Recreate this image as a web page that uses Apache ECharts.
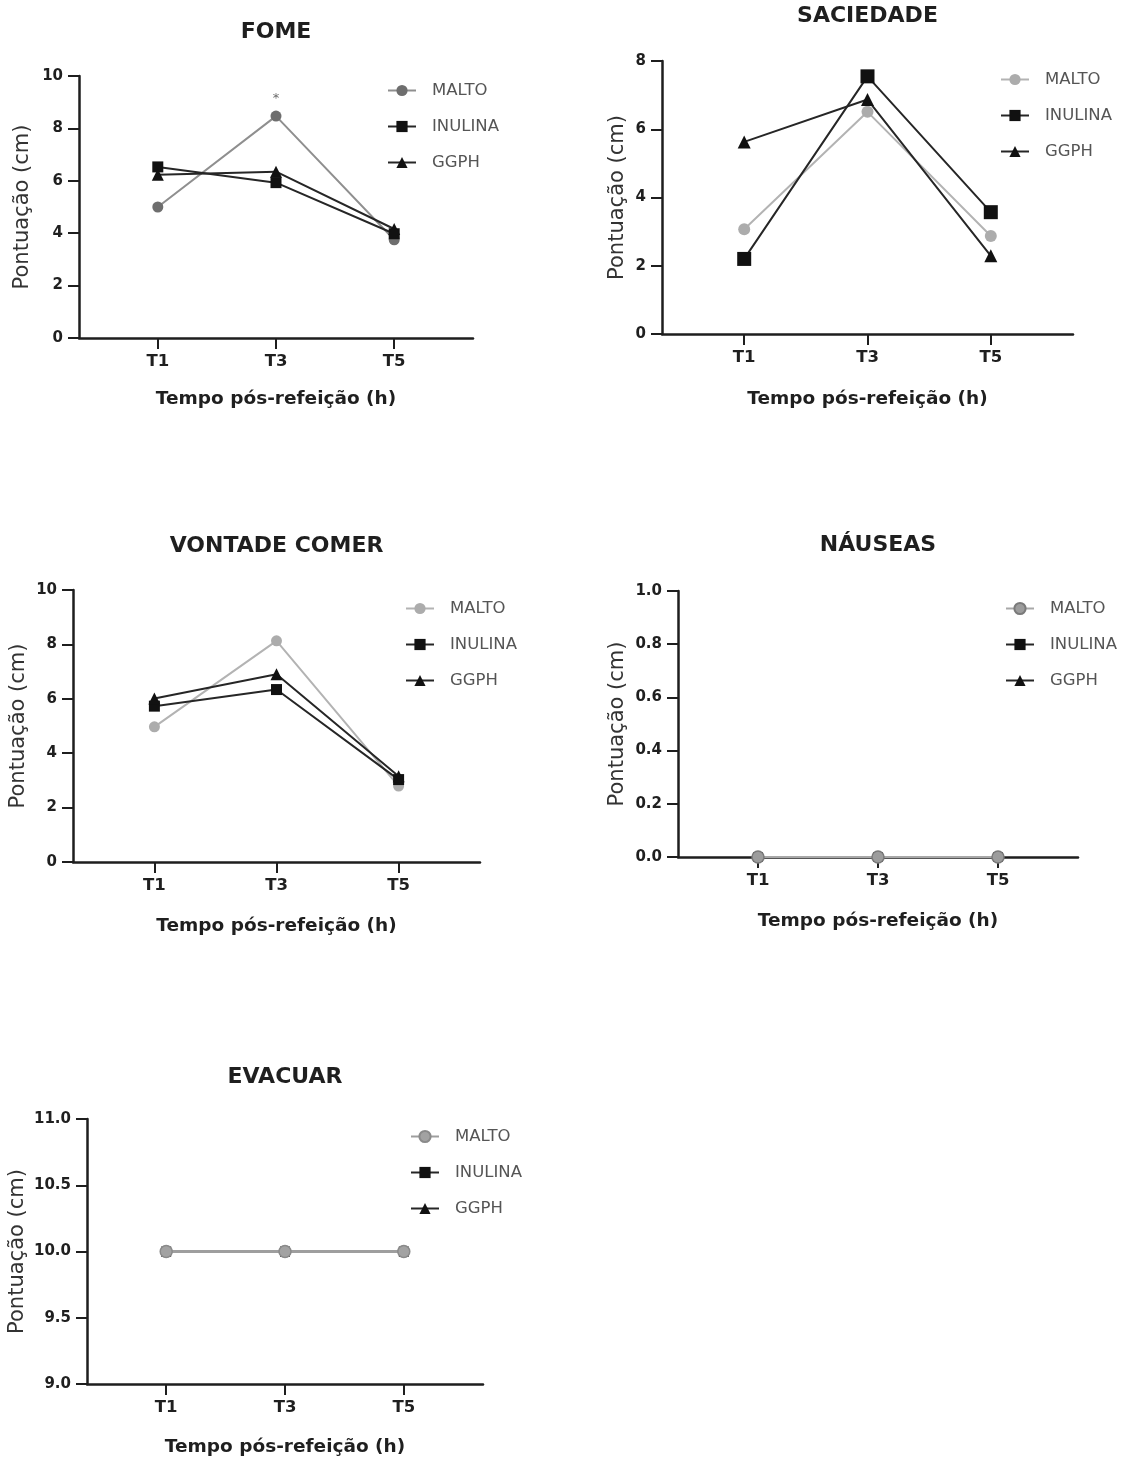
<!DOCTYPE html>
<html>
<head>
<meta charset="utf-8">
<script src="https://cdn.jsdelivr.net/npm/echarts@6/dist/echarts.min.js"></script>
<style>
html,body{margin:0;padding:0;background:#fff;width:1141px;height:1460px;overflow:hidden}
.p{position:absolute;left:0;top:0;width:1141px;height:1460px}
</style>
</head>
<body>
<div id="c0" class="p"></div>
<div id="c1" class="p"></div>
<div id="c2" class="p"></div>
<div id="c3" class="p"></div>
<div id="c4" class="p"></div>
<script>
// ---------- data ----------
const categories = ['T1', 'T3', 'T5'];
const seriesNames = ['MALTO', 'INULINA', 'GGPH'];
const panelTitles = ['FOME', 'SACIEDADE', 'VONTADE COMER', 'NÁUSEAS', 'EVACUAR'];
const yAxisTitle = 'Pontuação (cm)';
const xAxisTitle = 'Tempo pós-refeição (h)';

const fomeMalto   = [5.0, 8.47, 3.75];
const fomeInulina = [6.53, 5.93, 3.98];
const fomeGgph    = [6.23, 6.35, 4.16];
const fomeMarks   = ['', '*', ''];
const fomeTicks   = [0, 2, 4, 6, 8, 10];

const saciedadeMalto   = [3.07, 6.51, 2.87];
const saciedadeInulina = [2.2, 7.55, 3.57];
const saciedadeGgph    = [5.63, 6.87, 2.29];
const saciedadeTicks   = [0, 2, 4, 6, 8];

const vontadeMalto   = [4.97, 8.13, 2.79];
const vontadeInulina = [5.73, 6.34, 3.03];
const vontadeGgph    = [6.01, 6.9, 3.15];
const vontadeTicks   = [0, 2, 4, 6, 8, 10];

const nauseasMalto   = [0, 0, 0];
const nauseasInulina = [0, 0, 0];
const nauseasGgph    = [0, 0, 0];
const nauseasTicks   = [0, 0.2, 0.4, 0.6, 0.8, 1.0];

const evacuarMalto   = [10, 10, 10];
const evacuarInulina = [10, 10, 10];
const evacuarGgph    = [10, 10, 10];
const evacuarTicks   = [9, 9.5, 10, 10.5, 11];

// ---------- layout / style ----------
const FONT = '"DejaVu Sans", "Liberation Sans", sans-serif';
const DARK = '#262626';
const AX = '#1e1e1e';

const panels = [
  { id: 'c0', title: panelTitles[0], values: [fomeMalto, fomeInulina, fomeGgph], ticks: fomeTicks, dec: 0, marks: fomeMarks,
    grid: { left: 79, top: 76, width: 394, height: 262 }, yGap: 46, xGap: 52, titleY: 32, legend: { left: 387, top: 82 },
    malto: { line: '#8f8f8f', fill: '#6e6e6e', border: '#6e6e6e', w: 2 }, sizes: [11, 11, 12], maltoTop: false },
  { id: 'c1', title: panelTitles[1], values: [saciedadeMalto, saciedadeInulina, saciedadeGgph], ticks: saciedadeTicks, dec: 0,
    grid: { left: 662, top: 61, width: 411, height: 273 }, yGap: 34, xGap: 56, titleY: 16, legend: { left: 1000, top: 71 },
    malto: { line: '#b3b3b3', fill: '#acacac', border: '#acacac', w: 2 }, sizes: [12, 14, 13], maltoTop: false },
  { id: 'c2', title: panelTitles[2], values: [vontadeMalto, vontadeInulina, vontadeGgph], ticks: vontadeTicks, dec: 0,
    grid: { left: 73, top: 590, width: 407, height: 272 }, yGap: 44, xGap: 55, titleY: 546, legend: { left: 405, top: 600 },
    malto: { line: '#b3b3b3', fill: '#acacac', border: '#acacac', w: 2 }, sizes: [11, 11, 12], maltoTop: false },
  { id: 'c3', title: panelTitles[3], values: [nauseasMalto, nauseasInulina, nauseasGgph], ticks: nauseasTicks, dec: 1,
    grid: { left: 678, top: 591, width: 400, height: 266 }, yGap: 50, xGap: 55, titleY: 545, legend: { left: 1005, top: 600 },
    malto: { line: '#a8a8a8', fill: '#9c9c9c', border: '#7a7a7a', w: 2 }, sizes: [12, 10, 10], maltoTop: true },
  { id: 'c4', title: panelTitles[4], values: [evacuarMalto, evacuarInulina, evacuarGgph], ticks: evacuarTicks, dec: 1,
    grid: { left: 87, top: 1119, width: 396, height: 265 }, yGap: 59, xGap: 54, titleY: 1077, legend: { left: 410, top: 1128 },
    malto: { line: '#9e9e9e', fill: '#a2a2a2', border: '#8a8a8a', w: 3 }, sizes: [12, 10, 10], maltoTop: true }
];

const symbols = ['circle', 'rect', 'triangle'];
const catIdx = categories.map((c, i) => i);

panels.forEach(function (p) {
  const chart = echarts.init(document.getElementById(p.id), null, { renderer: 'canvas' });
  const series = seriesNames.map(function (name, si) {
    const isMalto = si === 0;
    const col = isMalto ? p.malto.line : DARK;
    const s = {
      name: name,
      type: 'line',
      data: p.values[si].map((v, i) => [catIdx[i], v]),
      symbol: symbols[si],
      symbolSize: p.sizes[si],
      showAllSymbol: true,
      z: isMalto ? (p.maltoTop ? 5 : 2) : 3,
      lineStyle: { color: col, width: isMalto ? p.malto.w : 2 },
      itemStyle: {
        color: isMalto ? p.malto.fill : '#111',
        borderColor: isMalto ? p.malto.border : '#111',
        borderWidth: isMalto && p.maltoTop ? 1.5 : 0
      },
      emphasis: { disabled: true },
      animation: false
    };
    if (isMalto && p.marks) {
      s.label = {
        show: true, position: 'top', distance: 5,
        formatter: (q) => p.marks[q.dataIndex],
        color: '#6a6a6a', fontSize: 13, fontFamily: FONT
      };
    }
    return s;
  });

  const t = p.ticks;
  const option = {
    animation: false,
    backgroundColor: 'transparent',
    grid: Object.assign({ containLabel: false }, p.grid),
    graphic: [{
      type: 'text',
      x: p.grid.left + p.grid.width / 2,
      y: p.titleY,
      style: {
        text: p.title, fill: '#1f1f1f', align: 'center', verticalAlign: 'middle',
        fontSize: 22, fontWeight: 'bold', fontFamily: FONT
      }
    }],
    legend: {
      orient: 'vertical',
      left: p.legend.left,
      top: p.legend.top,
      data: seriesNames,
      itemWidth: 28,
      itemHeight: 14,
      itemGap: 19,
      padding: 0,
      selectedMode: false,
      textStyle: { fontFamily: FONT, fontSize: 16.5, color: '#555', padding: [0, 0, 0, 11] }
    },
    xAxis: {
      type: 'value',
      min: -2 / 3,
      max: 8 / 3,
      splitLine: { show: false },
      axisLine: { show: true, onZero: false, lineStyle: { color: AX, width: 2.5 } },
      axisTick: { show: true, customValues: catIdx, length: 11, lineStyle: { color: AX, width: 2 } },
      axisLabel: {
        customValues: catIdx,
        formatter: (v) => categories[Math.round(v)] || '',
        margin: 15, color: '#1f1f1f', fontSize: 16.5, fontWeight: 'bold', fontFamily: FONT
      },
      name: xAxisTitle,
      nameLocation: 'middle',
      nameGap: p.xGap,
      nameTextStyle: { color: '#1f1f1f', fontSize: 18.5, fontWeight: 'bold', fontFamily: FONT }
    },
    yAxis: {
      type: 'value',
      min: t[0],
      max: t[t.length - 1],
      interval: t[1] - t[0],
      splitLine: { show: false },
      axisLine: { show: true, onZero: false, lineStyle: { color: AX, width: 2.5 } },
      axisTick: { show: true, length: 11, lineStyle: { color: AX, width: 2 } },
      axisLabel: {
        formatter: (v) => Number(v).toFixed(p.dec),
        margin: 16, color: '#1f1f1f', fontSize: 15, fontWeight: 'bold', fontFamily: FONT
      },
      name: yAxisTitle,
      nameLocation: 'middle',
      nameRotate: 90,
      nameGap: p.yGap,
      nameTextStyle: { color: '#333', fontSize: 21, fontFamily: FONT }
    },
    series: series
  };
  chart.setOption(option);
});
</script>
</body>
</html>
